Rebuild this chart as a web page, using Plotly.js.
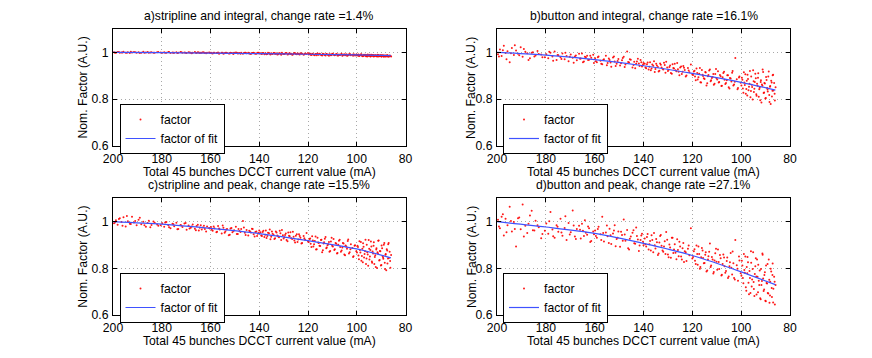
<!DOCTYPE html>
<html>
<head>
<meta charset="utf-8">
<script src="https://cdn.plot.ly/plotly-3.0.1.min.js"></script>
<style>
  html, body { margin: 0; padding: 0; background: white; }
  #plot-factors { width: 872px; height: 358px; }
</style>
</head>
<body>
<div id="plot-factors"></div>
<script>
// Total 45 bunches DCCT current (mA), shared by all four panels
const current = [
	199.6, 198.8, 198.1, 197.2, 196.5, 195.7, 194.8, 193.9, 193.1, 192.2, 191.4, 190.3, 189.5, 188.4, 187.6, 186.5, 185.3, 184.2, 182.9, 181.4,
	179.8, 179.0, 178.1, 177.3, 176.4, 175.6, 174.9, 174.0, 173.2, 172.3, 171.5, 170.7, 169.8, 169.0, 168.1, 167.3, 166.4, 165.7, 164.8, 164.0, 163.1, 162.3, 161.4, 160.6,
	159.8, 159.1, 158.4, 157.6, 156.9, 156.2, 155.4, 154.7, 153.9, 153.2, 152.5, 151.8, 151.0, 150.3, 149.6, 148.8, 148.1, 147.4, 146.7, 145.9, 145.2, 144.5, 143.8, 143.0, 142.3, 141.6, 140.9, 140.2,
	139.5, 138.9, 138.3, 137.6, 137.0, 136.4, 135.7, 135.1, 134.5, 133.8, 133.2, 132.6, 131.9, 131.3, 130.7, 130.0, 129.4, 128.8, 128.1, 127.5, 126.9, 126.2, 125.6, 125.0, 124.3, 123.7, 123.1, 122.4, 121.8, 121.2, 120.6, 120.0,
	119.4, 118.9, 118.3, 117.8, 117.2, 116.7, 116.1, 115.6, 115.0, 114.5, 113.9, 113.4, 112.8, 112.3, 111.7, 111.2, 110.6, 110.1, 109.5, 109.0, 108.4, 107.9, 107.3, 106.8, 106.2, 105.7, 105.1, 104.6, 104.0, 103.5, 102.9, 102.4, 101.8, 101.3, 100.7, 100.2,
	99.7, 99.3, 98.9, 98.5, 98.1, 97.7, 97.4, 97.0, 96.6, 96.2, 95.9, 95.5, 95.1, 94.8, 94.4, 94.0, 93.7, 93.3, 93.0, 92.6, 92.2, 91.9, 91.5, 91.2, 90.8, 90.5, 90.1, 89.8, 89.4, 89.1, 88.7, 88.4, 88.1, 87.7, 87.4, 87.1, 86.8, 86.5, 86.2, 85.9,
	199.2, 197.6, 196.1, 194.3, 192.7, 190.9, 189.0, 187.1, 185.8, 184.7, 183.4, 181.9,
	180.4, 178.6, 177.0, 175.2, 173.6, 172.0, 170.2, 168.6, 167.7, 166.0, 165.2, 164.4, 163.6, 162.7, 161.8, 160.3,
	159.5, 158.7, 157.3, 156.5, 155.0, 154.2, 153.5, 152.1, 151.4, 150.6, 149.2, 148.5, 147.7, 146.3, 145.6, 144.1, 143.4, 142.7, 141.9, 141.2, 140.6, 140.0,
	139.2, 138.6, 137.9, 137.3, 136.7, 136.0, 135.4, 134.8, 134.1, 133.5, 132.9, 132.2, 131.6, 131.0, 130.3, 129.7, 129.1, 128.4, 127.8, 127.2, 126.5, 125.9, 125.3, 124.6, 124.0, 123.4, 122.7, 121.5,
	119.7, 119.1, 118.6, 118.0, 117.5, 116.9, 116.4, 115.8, 115.3, 114.7, 114.2, 113.6, 113.1, 112.5, 112.0, 111.4, 110.9, 110.3, 109.8, 109.2, 108.7, 108.1, 107.6, 107.0, 106.5, 105.9, 105.4, 104.8, 104.3, 103.7, 103.2, 102.6, 101.5, 100.9,
	99.9, 99.5, 99.1, 98.7, 98.3, 97.9, 97.5, 97.2, 96.8, 96.4, 96.0, 95.7, 95.3, 94.9, 94.6, 94.2, 93.8, 93.5, 93.1, 92.8, 92.4, 92.0, 91.7, 91.3, 91.0, 90.6, 90.3, 89.9, 89.6, 89.2, 88.9, 88.5, 88.2, 87.9, 87.5, 87.2, 86.9, 86.3
];

// a) stripline and integral
const factor_a = [
	1.001, 0.999, 1.002, 0.998, 1.000, 1.003, 0.999, 1.001, 0.997, 1.000, 1.002, 0.998, 1.001, 0.999, 1.003, 1.000, 0.998, 1.001, 0.999, 1.002,
	0.998, 1.001, 0.999, 1.002, 0.997, 1.000, 0.998, 1.001, 0.999, 1.002, 0.998, 1.000, 0.997, 1.001, 0.999, 0.998, 1.002, 0.997, 1.000, 0.999, 1.001, 0.997, 0.999, 1.000,
	0.998, 0.995, 0.999, 0.997, 1.000, 0.996, 0.998, 0.994, 0.999, 0.997, 0.995, 0.999, 0.996, 0.998, 1.000, 0.995, 0.997, 0.999, 0.994, 0.998, 0.996, 0.999, 0.995, 0.997, 0.999, 0.994, 0.996, 0.998,
	0.996, 0.993, 0.997, 0.995, 0.992, 0.998, 0.994, 0.996, 0.993, 0.997, 0.995, 0.991, 0.996, 0.994, 0.998, 0.993, 0.995, 0.997, 0.992, 0.996, 0.994, 0.991, 0.997, 0.993, 0.995, 0.992, 0.996, 0.994, 0.990, 0.995, 0.993, 0.997,
	0.993, 0.990, 0.994, 0.991, 0.988, 0.993, 0.995, 0.990, 0.992, 0.989, 0.994, 0.991, 0.987, 0.993, 0.990, 0.992, 0.988, 0.994, 0.991, 0.989, 0.993, 0.987, 0.991, 0.990, 0.994, 0.988, 0.992, 0.990, 0.986, 0.991, 0.993, 0.988, 0.990, 0.992, 0.987, 0.991,
	0.988, 0.991, 0.986, 0.989, 0.992, 0.987, 0.985, 0.990, 0.988, 0.984, 0.989, 0.991, 0.986, 0.988, 0.983, 0.990, 0.987, 0.985, 0.989, 0.984, 0.988, 0.986, 0.990, 0.983, 0.987, 0.985, 0.989, 0.982, 0.986, 0.988, 0.984, 0.987, 0.983, 0.986, 0.989, 0.984, 0.982, 0.987, 0.985, 0.983,
	0.999, 1.002, 1.000, 0.998, 1.003, 1.001, 0.997, 0.999, 1.002, 1.000, 0.998, 1.001,
	1.000, 0.998, 1.002, 0.999, 0.997, 1.001, 0.998, 1.000, 0.996, 0.999, 1.001, 0.997, 0.998, 1.000, 0.996, 0.998,
	0.996, 0.999, 0.997, 0.994, 0.998, 0.996, 0.999, 0.995, 0.997, 0.993, 0.998, 0.996, 0.994, 0.997, 0.999, 0.995, 0.993, 0.997, 0.996, 0.994, 0.998, 0.995,
	0.994, 0.997, 0.992, 0.995, 0.993, 0.996, 0.991, 0.994, 0.997, 0.993, 0.995, 0.992, 0.996, 0.990, 0.994, 0.993, 0.996, 0.991, 0.995, 0.993, 0.990, 0.994, 0.996, 0.992, 0.994, 0.991, 0.995, 0.992,
	0.991, 0.994, 0.989, 0.992, 0.990, 0.993, 0.988, 0.991, 0.994, 0.990, 0.987, 0.992, 0.989, 0.993, 0.990, 0.986, 0.991, 0.989, 0.993, 0.988, 0.990, 0.992, 0.987, 0.989, 0.991, 0.986, 0.990, 0.988, 0.992, 0.987, 0.989, 0.991, 0.986, 0.990,
	0.987, 0.990, 0.985, 0.988, 0.991, 0.986, 0.984, 0.989, 0.987, 0.990, 0.985, 0.983, 0.988, 0.986, 0.990, 0.984, 0.987, 0.989, 0.983, 0.986, 0.988, 0.985, 0.982, 0.987, 0.989, 0.984, 0.986, 0.983, 0.988, 0.985, 0.981, 0.986, 0.984, 0.987, 0.982, 0.985, 0.983, 0.986
];

// b) button and integral
const factor_b = [
	0.992, 1.012, 0.985, 1.028, 0.997, 1.005, 0.958, 1.019, 0.989, 1.008, 0.994, 1.022, 0.981, 1.003, 0.996, 0.975, 1.001, 0.987, 0.993, 0.979,
	0.992, 0.975, 0.999, 0.983, 1.004, 0.968, 0.988, 0.979, 0.995, 0.971, 0.985, 0.962, 0.991, 0.977, 0.983, 0.966, 0.994, 0.974, 0.958, 0.981, 0.986, 0.969, 0.977, 0.990,
	0.975, 0.958, 0.982, 0.964, 0.949, 0.971, 0.986, 0.955, 0.967, 0.939, 0.978, 0.961, 0.952, 0.972, 0.944, 0.966, 0.981, 0.948, 1.004, 0.957, 0.969, 0.936, 0.960, 0.951, 0.973, 0.942, 0.958, 0.947,
	0.951, 0.932, 0.957, 0.939, 0.924, 0.948, 0.962, 0.929, 0.944, 0.918, 0.953, 0.936, 0.927, 0.946, 0.960, 0.921, 0.938, 0.912, 0.949, 0.931, 0.924, 0.955, 0.917, 0.936, 0.908, 0.942, 0.925, 0.901, 0.933, 0.915, 0.948, 0.906,
	0.918, 0.897, 0.931, 0.884, 0.909, 0.872, 0.925, 0.899, 0.886, 0.914, 0.868, 0.903, 0.927, 0.881, 0.895, 0.862, 0.908, 0.889, 0.919, 0.874, 0.898, 0.857, 0.912, 0.883, 0.869, 0.902, 0.851, 0.891, 0.876, 0.921, 0.863, 0.976, 0.885, 0.848, 0.897, 0.870,
	0.892, 0.846, 0.915, 0.861, 0.823, 0.879, 0.904, 0.838, 0.866, 0.808, 0.897, 0.852, 0.924, 0.831, 0.874, 0.889, 0.815, 0.858, 0.911, 0.842, 0.796, 0.881, 0.863, 0.927, 0.826, 0.869, 0.803, 0.895, 0.848, 0.833, 0.918, 0.788, 0.856, 0.879, 0.812, 0.902, 0.837, 0.869, 0.794, 0.851,
	0.983, 1.009, 0.971, 0.996, 1.031, 0.988, 1.014, 0.967, 0.999, 0.982, 1.006, 0.991,
	0.979, 1.003, 0.964, 0.989, 0.972, 0.998, 0.981, 0.956, 0.987, 0.973, 0.995, 0.961, 0.979, 0.968, 0.986, 0.955,
	0.962, 0.979, 0.951, 0.968, 0.945, 0.974, 0.957, 0.983, 0.942, 0.963, 0.954, 0.976, 0.938, 0.959, 0.971, 0.946, 0.932, 0.961, 0.953, 0.968, 0.940, 0.955,
	0.936, 0.949, 0.927, 0.958, 0.931, 0.943, 0.916, 0.952, 0.938, 0.922, 0.947, 0.930, 0.956, 0.913, 0.935, 0.926, 0.944, 0.909, 0.933, 0.951, 0.919, 0.928, 0.902, 0.940, 0.917, 0.934, 0.897, 0.923,
	0.903, 0.922, 0.881, 0.912, 0.894, 0.933, 0.871, 0.905, 0.889, 0.916, 0.859, 0.898, 0.923, 0.877, 0.891, 0.908, 0.866, 0.929, 0.884, 0.871, 0.903, 0.856, 0.894, 0.917, 0.865, 0.881, 0.902, 0.846, 0.888, 0.913, 0.859, 0.875, 0.842, 0.893,
	0.859, 0.883, 0.828, 0.871, 0.907, 0.844, 0.816, 0.886, 0.853, 0.921, 0.835, 0.862, 0.799, 0.877, 0.845, 0.909, 0.821, 0.866, 0.892, 0.811, 0.849, 0.874, 0.786, 0.858, 0.916, 0.829, 0.867, 0.805, 0.882, 0.841, 0.897, 0.818, 0.853, 0.779, 0.871, 0.836, 0.905, 0.823
];

// c) stripline and peak
const factor_c = [
	0.993, 1.006, 0.987, 1.015, 0.998, 1.019, 0.979, 1.002, 0.991, 1.021, 0.996, 0.984, 1.008, 0.989, 0.999, 0.978, 1.004, 0.986, 0.995, 0.982,
	0.993, 0.978, 0.998, 0.984, 0.972, 0.991, 0.980, 0.995, 0.969, 0.986, 0.977, 0.992, 0.965, 0.983, 0.974, 0.988, 0.970, 0.981, 0.962, 0.985, 0.975, 0.968, 0.979, 0.973,
	0.977, 0.961, 0.972, 0.955, 0.981, 0.966, 0.949, 0.974, 0.958, 0.968, 0.942, 0.971, 0.955, 0.963, 0.978, 0.947, 0.960, 0.969, 1.003, 0.952, 0.964, 0.941, 0.958, 0.970, 0.946, 0.956, 0.938, 0.951,
	0.955, 0.938, 0.961, 0.944, 0.930, 0.952, 0.966, 0.935, 0.948, 0.926, 0.958, 0.941, 0.933, 0.950, 0.964, 0.928, 0.943, 0.921, 0.954, 0.937, 0.929, 0.957, 0.919, 0.940, 0.913, 0.946, 0.931, 0.908, 0.939, 0.922, 0.951, 0.915,
	0.926, 0.905, 0.937, 0.893, 0.917, 0.881, 0.931, 0.908, 0.896, 0.922, 0.877, 0.912, 0.934, 0.889, 0.903, 0.871, 0.915, 0.897, 0.926, 0.882, 0.905, 0.866, 0.918, 0.891, 0.876, 0.909, 0.859, 0.898, 0.884, 0.924, 0.869, 0.903, 0.887, 0.852, 0.899, 0.873,
	0.897, 0.855, 0.916, 0.868, 0.832, 0.884, 0.907, 0.846, 0.873, 0.818, 0.901, 0.859, 0.921, 0.838, 0.879, 0.893, 0.824, 0.864, 0.912, 0.849, 0.806, 0.886, 0.869, 0.918, 0.833, 0.874, 0.812, 0.898, 0.853, 0.841, 0.909, 0.797, 0.861, 0.882, 0.821, 0.903, 0.844, 0.871, 0.802, 0.857,
	0.996, 1.011, 0.982, 1.024, 0.990, 1.003, 1.017, 0.985, 0.994, 0.976, 1.001, 0.988,
	0.984, 0.996, 0.976, 0.989, 0.967, 0.983, 0.994, 0.971, 0.979, 0.963, 0.987, 0.974, 0.966, 0.982, 0.958, 0.971,
	0.965, 0.979, 0.957, 0.971, 0.983, 0.952, 0.966, 0.944, 0.973, 0.960, 0.947, 0.968, 0.956, 0.975, 0.943, 0.961, 0.953, 0.969, 0.936, 0.958, 0.948, 0.962,
	0.941, 0.956, 0.934, 0.962, 0.939, 0.950, 0.925, 0.958, 0.943, 0.929, 0.953, 0.936, 0.961, 0.921, 0.942, 0.933, 0.949, 0.916, 0.940, 0.955, 0.926, 0.935, 0.911, 0.946, 0.924, 0.938, 0.906, 0.929,
	0.913, 0.928, 0.891, 0.919, 0.903, 0.936, 0.882, 0.911, 0.897, 0.921, 0.869, 0.906, 0.927, 0.886, 0.899, 0.913, 0.874, 0.931, 0.893, 0.879, 0.908, 0.863, 0.901, 0.922, 0.871, 0.889, 0.906, 0.856, 0.894, 0.917, 0.864, 0.882, 0.849, 0.897,
	0.868, 0.891, 0.839, 0.879, 0.913, 0.853, 0.826, 0.892, 0.861, 0.922, 0.842, 0.869, 0.811, 0.884, 0.851, 0.915, 0.829, 0.872, 0.897, 0.818, 0.856, 0.881, 0.801, 0.864, 0.919, 0.836, 0.873, 0.814, 0.886, 0.847, 0.901, 0.824, 0.858, 0.792, 0.876, 0.842, 0.908, 0.831
];

// d) button and peak
const factor_d = [
	1.008, 0.972, 1.021, 0.941, 1.012, 0.985, 1.064, 0.958, 0.998, 0.893, 1.015, 0.967, 1.073, 0.982, 0.951, 1.026, 0.963, 1.004, 0.976, 0.947,
	0.992, 0.948, 1.041, 0.966, 0.931, 0.985, 0.957, 1.012, 0.940, 0.973, 0.921, 0.994, 0.955, 1.048, 0.936, 0.969, 0.982, 0.928, 0.961, 1.006, 0.944, 0.972, 0.917, 0.958,
	0.962, 0.931, 0.978, 0.946, 1.021, 0.915, 0.953, 0.937, 0.970, 0.904, 0.949, 0.985, 0.926, 0.958, 0.892, 0.943, 1.009, 0.918, 0.964, 0.881, 0.936, 0.952, 0.907, 0.975, 0.923, 0.898, 0.941, 0.914,
	0.928, 0.894, 0.947, 0.903, 0.876, 0.921, 0.951, 0.885, 0.912, 0.864, 0.938, 0.897, 0.871, 0.916, 0.956, 0.859, 0.902, 0.845, 0.931, 0.881, 0.867, 0.925, 0.852, 0.893, 0.838, 0.908, 0.873, 0.831, 0.884, 0.856, 0.972, 0.842,
	0.873, 0.832, 0.898, 0.815, 0.861, 0.806, 0.887, 0.844, 0.823, 0.869, 0.791, 0.852, 0.906, 0.812, 0.838, 0.784, 0.865, 0.828, 0.881, 0.797, 0.843, 0.772, 0.859, 0.809, 0.788, 0.846, 0.765, 0.826, 0.802, 0.872, 0.758, 0.921, 0.813, 0.747, 0.834, 0.779,
	0.832, 0.758, 0.861, 0.781, 0.719, 0.806, 0.848, 0.738, 0.789, 0.694, 0.824, 0.752, 0.869, 0.711, 0.776, 0.843, 0.688, 0.764, 0.815, 0.729, 0.672, 0.797, 0.746, 0.858, 0.703, 0.771, 0.661, 0.812, 0.735, 0.694, 0.838, 0.652, 0.742, 0.786, 0.677, 0.821, 0.713, 0.764, 0.645, 0.728,
	0.979, 1.032, 0.955, 1.003, 0.968, 1.018, 0.936, 0.991, 1.047, 0.962, 0.984, 0.929,
	0.961, 1.002, 0.937, 0.978, 0.954, 1.023, 0.945, 0.983, 0.926, 0.965, 0.991, 0.938, 0.952, 0.979, 0.913, 0.946,
	0.939, 0.968, 0.921, 0.951, 0.983, 0.909, 0.942, 0.962, 0.895, 0.931, 0.957, 0.918, 0.945, 0.886, 0.927, 0.963, 0.905, 0.938, 0.874, 0.921, 0.948, 0.899,
	0.903, 0.934, 0.881, 0.917, 0.942, 0.869, 0.899, 0.926, 0.857, 0.911, 0.943, 0.876, 0.894, 0.861, 0.922, 0.847, 0.889, 0.931, 0.866, 0.903, 0.839, 0.878, 0.914, 0.851, 0.886, 0.827, 0.869, 0.898,
	0.848, 0.882, 0.819, 0.861, 0.893, 0.798, 0.847, 0.876, 0.822, 0.858, 0.786, 0.838, 0.871, 0.806, 0.849, 0.778, 0.833, 0.884, 0.794, 0.827, 0.857, 0.769, 0.818, 0.846, 0.781, 0.831, 0.759, 0.809, 0.866, 0.774, 0.822, 0.752, 0.798, 0.851,
	0.768, 0.812, 0.736, 0.793, 0.851, 0.704, 0.779, 0.826, 0.689, 0.758, 0.873, 0.722, 0.797, 0.741, 0.681, 0.809, 0.765, 0.838, 0.698, 0.747, 0.791, 0.667, 0.728, 0.864, 0.756, 0.709, 0.783, 0.659, 0.737, 0.819, 0.692, 0.751, 0.684, 0.798, 0.716, 0.771, 0.654, 0.742
];

// fitted curves, read at a few currents
const fit_current = [ 200, 180, 160, 140, 120, 100, 86 ];
const fit_a       = [ 1.000, 0.999, 0.997, 0.995, 0.992, 0.989, 0.986 ];
const fit_b       = [ 1.000, 0.988, 0.969, 0.943, 0.910, 0.872, 0.839 ];
const fit_c       = [ 1.000, 0.989, 0.971, 0.949, 0.919, 0.883, 0.845 ];
const fit_d       = [ 1.000, 0.977, 0.950, 0.907, 0.855, 0.785, 0.730 ];

const titles = [
	'a)stripline and integral, change rate =1.4%',
	'b)button and integral, change rate =16.1%',
	'c)stripline and peak, change rate =15.5%',
	'd)button and peak, change rate =27.1%'
];
const x_ticks     = [ 200, 180, 160, 140, 120, 100, 80 ];
const y_ticks     = [ 0.6, 0.8, 1 ];
const y_tick_text = [ '0.6', '0.8', '1' ];

const X_LABEL   = 'Total 45 bunches DCCT current value (mA)';
const Y_LABEL   = 'Nom. Factor (A.U.)';
const DOT_COLOR = '#ff0000';
const FIT_COLOR = '#3f52ff';
const FONT      = 'Liberation Sans, Arial, sans-serif';
const FONT_SIZE = 12.2;

const W = 872, H = 358;
// pixel boxes of the four axes: [ left, right, top, bottom ]
const BOXES = [
	[ 113, 405.5, 29, 146 ],
	[ 497, 790, 29, 146 ],
	[ 113, 405.5, 198.3, 315 ],
	[ 497, 790, 198.3, 315 ]
];

function px( v ) { return v / W; }
function py( v ) { return 1 - v / H; }

function axis_names( n ) {
	let s = n === 0 ? '' : String( n + 1 );
	return { x: 'x' + s, y: 'y' + s, xa: 'xaxis' + s, ya: 'yaxis' + s, lg: 'legend' + s };
}

function make_trace_factor( ys, n ) {
	let a = axis_names( n );
	return {
		x: current, y: ys,
		mode  : 'markers',
		name  : 'factor',
		marker: { color: DOT_COLOR, size: 2, opacity: 0.9 },
		type  : 'scatter',
		xaxis : a.x, yaxis: a.y, legend: a.lg
	};
}

function make_trace_fit( ys, n ) {
	let a = axis_names( n );
	return {
		x: fit_current, y: ys,
		mode : 'lines',
		name : 'factor of fit',
		line : { color: FIT_COLOR, width: 1.2, shape: 'spline', smoothing: 0.8 },
		type : 'scatter',
		xaxis: a.x, yaxis: a.y, legend: a.lg
	};
}

function make_axis( domain, range, tickvals, ticktext ) {
	return {
		domain   : domain,
		range    : range,
		autorange: false,
		tickmode : 'array',
		tickvals : tickvals,
		ticktext : ticktext,
		ticks    : 'inside',
		ticklen  : 4,
		tickcolor: 'black',
		ticklabelstandoff: 1,
		showline : true,
		linecolor: 'black',
		linewidth: 1,
		mirror   : 'ticks',
		showgrid : true,
		gridcolor: '#a8a8a8',
		griddash : '1px,3px',
		gridwidth: 1,
		zeroline : false,
		tickfont : { size: FONT_SIZE, color: 'black' }
	};
}

function create_factor_plot() {
	let ys_list  = [ factor_a, factor_b, factor_c, factor_d ];
	let fit_list = [ fit_a, fit_b, fit_c, fit_d ];
	let traces   = [];
	let layout   = {
		width : W, height: H,
		margin: { l: 0, r: 0, t: 0, b: 0 },
		paper_bgcolor: 'white',
		plot_bgcolor : 'white',
		font  : { family: FONT, size: FONT_SIZE, color: 'black' },
		showlegend : true,
		annotations: []
	};

	for ( let n = 0; n < 4; n++ ) {
		let a   = axis_names( n );
		let box = BOXES[ n ];
		traces.push( make_trace_factor( ys_list[ n ], n ) );
		traces.push( make_trace_fit( fit_list[ n ], n ) );

		layout[ a.xa ] = make_axis( [ px( box[ 0 ] ), px( box[ 1 ] ) ], [ 200, 80 ], x_ticks, x_ticks.map( String ) );
		layout[ a.ya ] = make_axis( [ py( box[ 3 ] ), py( box[ 2 ] ) ], [ 0.6, 1.1 ], y_ticks, y_tick_text );
		layout[ a.xa ].anchor = a.y;
		layout[ a.ya ].anchor = a.x;

		layout[ a.lg ] = {
			x: px( box[ 0 ] + ( n % 2 === 0 ? 6.5 : 6 ) ), y: py( box[ 3 ] - 42 ),
			xanchor: 'left', yanchor: 'top',
			bgcolor: 'white', bordercolor: 'black', borderwidth: 1,
			font: { size: FONT_SIZE }, tracegroupgap: 0
		};

		let xc = ( box[ 0 ] + box[ 1 ] ) / 2;
		let yc = ( box[ 2 ] + box[ 3 ] ) / 2;
		let ytitle_x = n % 2 === 0 ? box[ 0 ] - 30 : box[ 0 ] - 25.6;
		layout.annotations.push(
			{ text: titles[ n ], xref: 'paper', yref: 'paper', x: px( xc ), y: py( box[ 2 ] - 13.5 ),
			  xanchor: 'center', yanchor: 'middle', showarrow: false },
			{ text: X_LABEL, xref: 'paper', yref: 'paper', x: px( xc ), y: py( box[ 3 ] + 26 ),
			  xanchor: 'center', yanchor: 'middle', showarrow: false },
			{ text: Y_LABEL, xref: 'paper', yref: 'paper', x: px( ytitle_x ), y: py( yc ),
			  xanchor: 'center', yanchor: 'middle', textangle: -90, showarrow: false }
		);
	}

	Plotly.newPlot( 'plot-factors', traces, layout, { staticPlot: true } );
}

create_factor_plot();
</script>
</body>
</html>
